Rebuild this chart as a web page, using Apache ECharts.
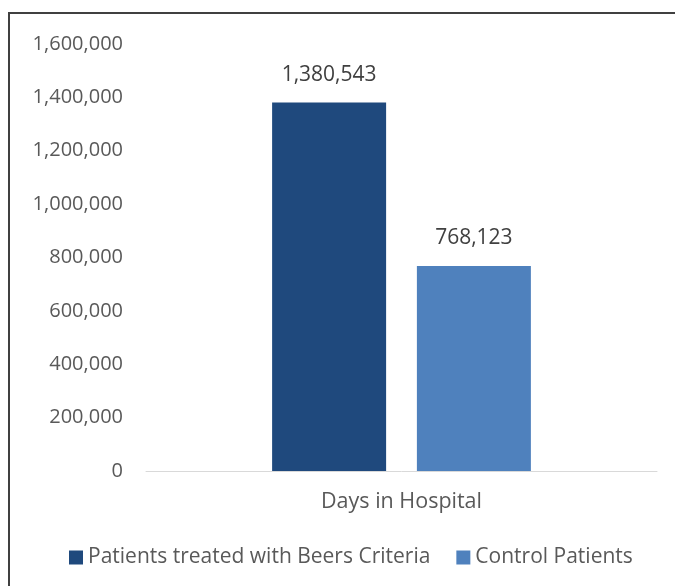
<!DOCTYPE html>
<html>
<head>
<meta charset="utf-8">
<script src="https://cdn.jsdelivr.net/npm/echarts@6/dist/echarts.min.js"></script>
<style>
  html, body { margin: 0; padding: 0; background: #fff; }
  #chart { position: absolute; left: 0; top: 0; width: 675px; height: 586px; }
  #frame { position: absolute; left: 8px; top: 12px; width: 680px; height: 574px;
           border-top: 2px solid #404040; border-left: 2px solid #404040; pointer-events: none; }
</style>
</head>
<body>
<div id="chart"></div>
<div id="frame"></div>
<script>
const categories = ['Days in Hospital'];
const seriesNames = ['Patients treated with Beers Criteria', 'Control Patients'];
const beersValues = [1380543];
const controlValues = [768123];
const yTicks = { min: 0, max: 1600000, interval: 200000 };

const FONT = 'Open Sans';
const fmt = v => Number(v).toLocaleString('en-US');

const chart = echarts.init(document.getElementById('chart'), null, { renderer: 'canvas' });
chart.setOption({
  animation: false,
  textStyle: { fontFamily: FONT },
  grid: { left: 146, right: 18, top: 44, bottom: 115 },
  legend: {
    bottom: 13,
    left: 64,
    itemWidth: 14,
    itemHeight: 14,
    itemGap: 26,
    icon: 'rect',
    textStyle: { fontFamily: FONT, fontSize: 21, color: '#595959', padding: [0, 0, 0, 0] },
    data: seriesNames
  },
  xAxis: {
    type: 'category',
    data: categories,
    axisLine: { show: true, lineStyle: { color: '#D9D9D9', width: 1 } },
    axisTick: { show: false },
    axisLabel: { fontFamily: FONT, fontSize: 21.5, color: '#595959', margin: 20 }
  },
  yAxis: {
    type: 'value',
    min: yTicks.min, max: yTicks.max, interval: yTicks.interval,
    axisLine: { show: false },
    axisTick: { show: false },
    splitLine: { show: false },
    axisLabel: { fontFamily: FONT, fontSize: 20, color: '#595959', margin: 23, formatter: fmt }
  },
  series: [
    {
      name: seriesNames[0], type: 'bar', data: beersValues,
      barWidth: 114, barGap: '27%',
      itemStyle: { color: '#1F497D' },
      label: { show: true, position: 'top', distance: 17, fontFamily: FONT, fontSize: 21, color: '#404040', formatter: p => fmt(p.value) }
    },
    {
      name: seriesNames[1], type: 'bar', data: controlValues,
      barWidth: 114, barGap: '27%',
      itemStyle: { color: '#4F81BD' },
      label: { show: true, position: 'top', distance: 17, fontFamily: FONT, fontSize: 21, color: '#404040', formatter: p => fmt(p.value) }
    }
  ]
});
</script>
</body>
</html>
